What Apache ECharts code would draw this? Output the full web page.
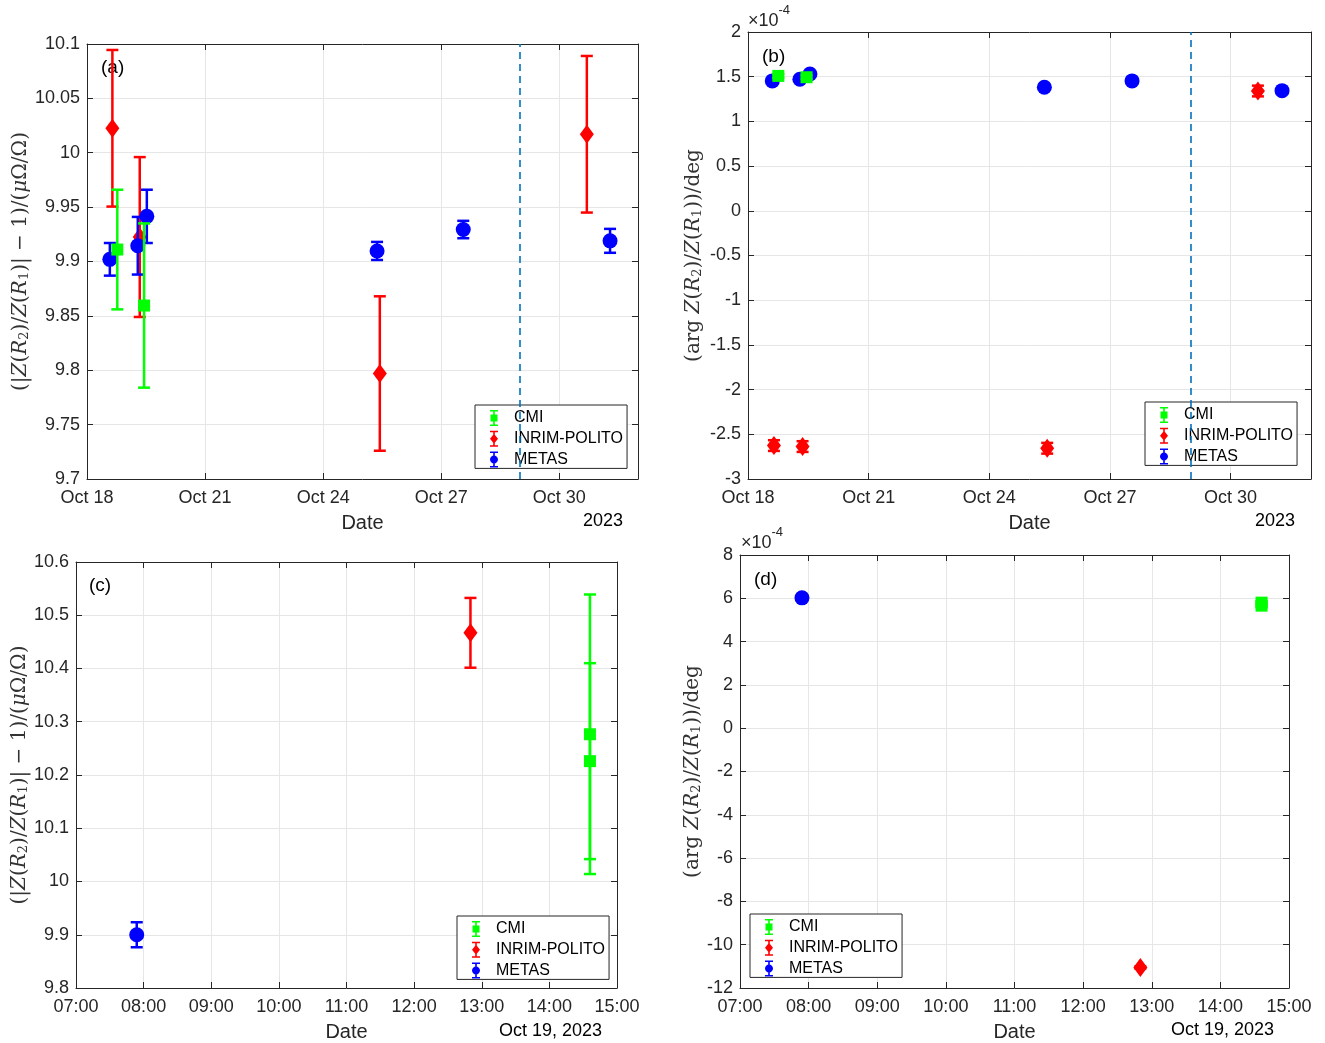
<!DOCTYPE html>
<html>
<head>
<meta charset="utf-8">
<script src="https://cdn.jsdelivr.net/npm/echarts@6.0.0/dist/echarts.min.js"></script>
<style>
  html, body { margin: 0; padding: 0; background: #fff; }
  #chart { width: 1325px; height: 1043px; }
</style>
</head>
<body>
<div id="chart"></div>
<script>
// ---- data -------------------------------------------------------------
// (a) magnitude ratio deviation, x = day of October 2023
const magDayCMI = [18.77, 19.45];
const magCMI = [9.911, 9.8595];
const magUncCMI = [0.055, 0.0755];
const magDayINRIM = [18.645, 19.34, 25.44, 30.70];
const magINRIM = [10.0225, 9.9225, 9.797, 10.017];
const magUncINRIM = [0.072, 0.0735, 0.071, 0.072];
const magDayMETAS = [18.58, 19.29, 19.52, 25.37, 27.56, 31.29];
const magMETAS = [9.902, 9.9145, 9.9415, 9.9097, 9.9294, 9.919];
const magUncMETAS = [0.015, 0.0265, 0.0245, 0.0083, 0.008, 0.011];

// (b) phase deviation in units of 1e-4 deg, x = day of October 2023
const argDayCMI = [18.754, 19.456];
const argCMI = [1.509, 1.494];
const argUncCMI = [0.02, 0.02];
const argDayINRIM = [18.645, 19.357, 25.44, 30.68];
const argINRIM = [-2.626, -2.637, -2.656, 1.340];
const argUncINRIM = [0.06, 0.06, 0.06, 0.06];
const argDayMETAS = [18.605, 19.29, 19.54, 25.37, 27.55, 31.28];
const argMETAS = [1.453, 1.472, 1.531, 1.382, 1.453, 1.344];
const argUncMETAS = [0.02, 0.02, 0.02, 0.02, 0.02, 0.02];

// (c) magnitude on Oct 19, x = hour of day
const oct19MagHourCMI = [14.60, 14.60];
const oct19MagCMI = [10.2765, 10.226];
const oct19MagUncCMI = [0.2625, 0.184];
const oct19MagHourINRIM = [12.833];
const oct19MagINRIM = [10.467];
const oct19MagUncINRIM = [0.0655];
const oct19MagHourMETAS = [7.898];
const oct19MagMETAS = [9.900];
const oct19MagUncMETAS = [0.0235];

// (d) phase on Oct 19 in units of 1e-4 deg, x = hour of day
const oct19ArgHourCMI = [14.60, 14.60];
const oct19ArgCMI = [5.80, 5.66];
const oct19ArgUncCMI = [0.05, 0.05];
const oct19ArgHourINRIM = [12.834];
const oct19ArgINRIM = [-11.05];
const oct19ArgUncINRIM = [0.05];
const oct19ArgHourMETAS = [7.903];
const oct19ArgMETAS = [6.02];
const oct19ArgUncMETAS = [0.05];

const cutoffDay = 29; // dashed marker line in (a) and (b)

const labNames = ['CMI', 'INRIM-POLITO', 'METAS'];
const dateTicks = [18, 21, 24, 27, 30];
const dateMonth = 'Oct';
const hourTicks = [7, 8, 9, 10, 11, 12, 13, 14, 15];

// ---- styling ----------------------------------------------------------
const FONT = '"Liberation Sans", Arial, Helvetica, sans-serif';
const SERIF = '"DejaVu Serif", "Liberation Serif", serif';
const AXIS_COLOR = '#262626';
const GRID_COLOR = '#e6e6e6';
const COLORS = { 'CMI': '#00ff00', 'INRIM-POLITO': '#ff0000', 'METAS': '#0000ff' };

const grids = [
  { left: 87, top: 44, width: 551, height: 435 },   // (a)
  { left: 748, top: 32, width: 563, height: 447 },  // (b)
  { left: 76, top: 562, width: 541, height: 427 },  // (c)
  { left: 740, top: 555, width: 549, height: 433 }  // (d)
];

const magName = '(|{i|Z}({i|R}{s|2})/{i|Z}({i|R}{s|1})| − 1)/({i|μ}Ω/Ω)';
const argName = '(arg {i|Z}({i|R}{s|2})/{i|Z}({i|R}{s|1}))/deg';
const nameRich = {
  i: { fontStyle: 'italic', fontFamily: SERIF, fontSize: 20, color: '#333' },
  s: { fontFamily: SERIF, fontSize: 13, color: '#333', verticalAlign: 'bottom' }
};

function rows(xs, ys, uncs) {
  return xs.map((x, i) => [x, ys[i], ys[i] - uncs[i], ys[i] + uncs[i]]);
}

function errorBar(params, api) {
  const x = api.value(0);
  const top = api.coord([x, api.value(3)]);
  const bot = api.coord([x, api.value(2)]);
  const hw = 6;
  const style = { stroke: api.visual('color'), lineWidth: 2.5, fill: null };
  return {
    type: 'group',
    children: [
      { type: 'line', shape: { x1: top[0], y1: top[1], x2: bot[0], y2: bot[1] }, style: style },
      { type: 'line', shape: { x1: top[0] - hw, y1: top[1], x2: top[0] + hw, y2: top[1] }, style: style },
      { type: 'line', shape: { x1: bot[0] - hw, y1: bot[1], x2: bot[0] + hw, y2: bot[1] }, style: style }
    ]
  };
}

const markers = {
  'CMI': { symbol: 'rect', size: [12, 12], z: 6 },
  'INRIM-POLITO': { symbol: 'diamond', size: [14, 19], z: 2 },
  'METAS': { symbol: 'circle', size: 15, z: 4 }
};

function labSeries(g, name, data, extra) {
  const m = markers[name];
  const bars = {
    type: 'custom', name: name, xAxisIndex: g * 2, yAxisIndex: g * 2,
    data: data, renderItem: errorBar, encode: { x: 0, y: [1, 2, 3] },
    itemStyle: { color: COLORS[name] }, z: m.z, silent: true
  };
  const pts = Object.assign({
    type: 'scatter', name: name, xAxisIndex: g * 2, yAxisIndex: g * 2,
    data: data, encode: { x: 0, y: 1 }, symbol: m.symbol, symbolSize: m.size,
    itemStyle: { color: COLORS[name], opacity: 1 }, z: m.z + 1, silent: true
  }, extra || {});
  return [bars, pts];
}

const cutoffLine = {
  markLine: {
    silent: true, symbol: 'none', label: { show: false },
    lineStyle: { color: '#0072bd', type: [7, 5], width: 1.6 },
    data: [{ xAxis: cutoffDay }]
  }
};

function dateLabel(v) {
  return dateTicks.indexOf(v) >= 0 ? dateMonth + ' ' + v : '';
}
function hourLabel(v) {
  return hourTicks.indexOf(v) >= 0 ? (v < 10 ? '0' : '') + v + ':00' : '';
}
function numLabel(v) {
  return String(parseFloat(v.toFixed(3)));
}

const xAxes = [];
const yAxes = [];
function addAxes(g, xr, yr, fmtX, yName, yGap) {
  xAxes.push({
    type: 'value', gridIndex: g, min: xr[0], max: xr[1], interval: xr[2], position: 'bottom',
    axisLine: { onZero: false, lineStyle: { color: AXIS_COLOR, width: 1 } },
    axisTick: { inside: true, length: 6, lineStyle: { color: AXIS_COLOR } },
    axisLabel: { color: AXIS_COLOR, fontSize: 18, fontFamily: FONT, margin: 10, formatter: fmtX, hideOverlap: false },
    splitLine: { show: true, lineStyle: { color: GRID_COLOR, width: 1 } },
    name: 'Date', nameLocation: 'middle', nameGap: 34,
    nameTextStyle: { fontSize: 20, fontFamily: FONT, color: AXIS_COLOR }
  });
  xAxes.push({
    type: 'value', gridIndex: g, min: xr[0], max: xr[1], interval: xr[2], position: 'top',
    axisLine: { onZero: false, lineStyle: { color: AXIS_COLOR, width: 1 } },
    axisTick: { inside: true, length: 6, lineStyle: { color: AXIS_COLOR } },
    axisLabel: { show: false }, splitLine: { show: false }
  });
  yAxes.push({
    type: 'value', gridIndex: g, min: yr[0], max: yr[1], interval: yr[2], position: 'left',
    axisLine: { show: true, onZero: false, lineStyle: { color: AXIS_COLOR, width: 1 } },
    axisTick: { show: true, inside: true, length: 6, lineStyle: { color: AXIS_COLOR } },
    axisLabel: { color: AXIS_COLOR, fontSize: 18, fontFamily: FONT, margin: 7, formatter: numLabel },
    splitLine: { show: true, lineStyle: { color: GRID_COLOR, width: 1 } },
    name: yName, nameLocation: 'middle', nameRotate: 90, nameGap: yGap,
    nameTextStyle: { fontSize: 20, fontFamily: SERIF, color: '#333', rich: nameRich }
  });
  yAxes.push({
    type: 'value', gridIndex: g, min: yr[0], max: yr[1], interval: yr[2], position: 'right',
    axisLine: { show: true, onZero: false, lineStyle: { color: AXIS_COLOR, width: 1 } },
    axisTick: { show: true, inside: true, length: 6, lineStyle: { color: AXIS_COLOR } },
    axisLabel: { show: false }, splitLine: { show: false }
  });
}

addAxes(0, [18, 32, 3], [9.7, 10.1, 0.05], dateLabel, magName, 56);
addAxes(1, [18, 32, 3], [-3, 2, 0.5], dateLabel, argName, 44);
addAxes(2, [7, 15, 1], [9.8, 10.6, 0.1], hourLabel, magName, 45);
addAxes(3, [7, 15, 1], [-12, 8, 2], hourLabel, argName, 36);

const series = [].concat(
  labSeries(0, 'INRIM-POLITO', rows(magDayINRIM, magINRIM, magUncINRIM)),
  labSeries(0, 'METAS', rows(magDayMETAS, magMETAS, magUncMETAS), cutoffLine),
  labSeries(0, 'CMI', rows(magDayCMI, magCMI, magUncCMI)),
  labSeries(1, 'INRIM-POLITO', rows(argDayINRIM, argINRIM, argUncINRIM)),
  labSeries(1, 'METAS', rows(argDayMETAS, argMETAS, argUncMETAS), cutoffLine),
  labSeries(1, 'CMI', rows(argDayCMI, argCMI, argUncCMI)),
  labSeries(2, 'INRIM-POLITO', rows(oct19MagHourINRIM, oct19MagINRIM, oct19MagUncINRIM)),
  labSeries(2, 'METAS', rows(oct19MagHourMETAS, oct19MagMETAS, oct19MagUncMETAS)),
  labSeries(2, 'CMI', rows(oct19MagHourCMI, oct19MagCMI, oct19MagUncCMI)),
  labSeries(3, 'INRIM-POLITO', rows(oct19ArgHourINRIM, oct19ArgINRIM, oct19ArgUncINRIM)),
  labSeries(3, 'METAS', rows(oct19ArgHourMETAS, oct19ArgMETAS, oct19ArgUncMETAS)),
  labSeries(3, 'CMI', rows(oct19ArgHourCMI, oct19ArgCMI, oct19ArgUncCMI))
);

// legend icons: error bar with the lab's marker
const capsPath = 'M1,0H9V1.5H1Z M4.2,0H5.8V16H4.2Z M1,14.5H9V16H1Z ';
const legendIcons = {
  'CMI': 'path://' + capsPath + 'M1.5,4.5H8.5V11.5H1.5Z',
  'INRIM-POLITO': 'path://' + capsPath + 'M5,3L9,8L5,13L1,8Z',
  'METAS': 'path://' + capsPath + 'M1,8C1,5.8 2.8,4 5,4C7.2,4 9,5.8 9,8C9,10.2 7.2,12 5,12C2.8,12 1,10.2 1,8Z'
};

function legendAt(left, top) {
  return {
    left: left, top: top, orient: 'vertical', selectedMode: false,
    itemWidth: 10, itemHeight: 16, itemGap: 4.7, padding: [5, 4, 1, 15],
    borderColor: AXIS_COLOR, borderWidth: 1, backgroundColor: '#fff',
    textStyle: { fontSize: 16, fontFamily: FONT, color: '#000', padding: [0, 0, 0, 10] },
    data: labNames.map(n => ({ name: n, icon: legendIcons[n] }))
  };
}

function txt(x, y, text, size, align) {
  return {
    type: 'text', x: x, y: y, silent: true,
    style: { text: text, fontSize: size, fontFamily: FONT, fill: '#000', textAlign: align || 'left' }
  };
}
function power(x, y) {
  return {
    type: 'text', x: x, y: y, silent: true,
    style: {
      text: '{a|×10}{b|-4}', fontFamily: FONT, fill: AXIS_COLOR,
      rich: {
        a: { fontSize: 18, fontFamily: FONT, fill: AXIS_COLOR, verticalAlign: 'bottom', padding: [8, 0, 0, 0] },
        b: { fontSize: 13, fontFamily: FONT, fill: AXIS_COLOR, verticalAlign: 'top' }
      }
    }
  };
}

const chart = echarts.init(document.getElementById('chart'), null, { renderer: 'canvas' });
chart.setOption({
  backgroundColor: '#fff',
  animation: false,
  grid: grids,
  xAxis: xAxes,
  yAxis: yAxes,
  legend: [legendAt(475, 405), legendAt(1145, 402), legendAt(457, 916), legendAt(750, 914)],
  series: series,
  graphic: [
    txt(101, 58, '(a)', 19),
    txt(762, 47, '(b)', 19),
    txt(89, 576, '(c)', 19),
    txt(754, 570, '(d)', 19),
    power(748, 4),
    power(741, 526),
    txt(623, 512, '2023', 18, 'right'),
    txt(1295, 512, '2023', 18, 'right'),
    txt(602, 1022, 'Oct 19, 2023', 18, 'right'),
    txt(1274, 1021, 'Oct 19, 2023', 18, 'right')
  ]
});
</script>
</body>
</html>
